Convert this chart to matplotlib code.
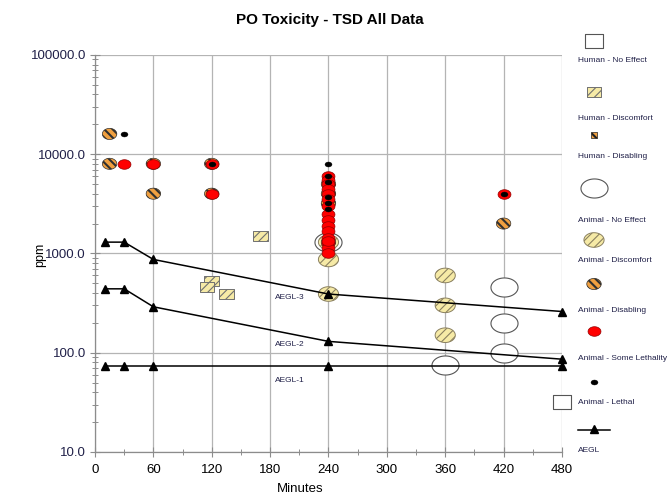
import numpy as np
import matplotlib
matplotlib.use("Agg")
import matplotlib.pyplot as plt
from matplotlib.path import Path
from matplotlib.ticker import FixedLocator, LogLocator, NullFormatter, FuncFormatter

plt.rcParams['font.family'] = ['Liberation Sans', 'DejaVu Sans']

# ---------------- data ----------------
human_noeffect_t = [480]
human_noeffect_ppm = [32]

human_discomfort_t = [170, 120, 115, 135]
human_discomfort_ppm = [1500, 530, 460, 390]

animal_noeffect_t = [240, 360, 420, 420, 420]
animal_noeffect_ppm = [1300, 75, 460, 200, 100]

animal_discomfort_t = [240, 240, 240, 360, 360, 360]
animal_discomfort_ppm = [1300, 870, 390, 600, 300, 150]

animal_disabling_t = [15, 15, 60, 60, 120, 120, 240, 240, 240, 240, 420]
animal_disabling_ppm = [16000, 8000, 8000, 4000, 8000, 4000, 5000, 4000, 3200, 1300, 2000]

animal_somelethal_t = [30, 60, 120, 120, 240, 240, 240, 240, 240, 240, 240, 240,
                       240, 240, 240, 240, 240, 240, 240, 240, 420]
animal_somelethal_ppm = [8000, 8000, 8000, 4000, 6000, 5500, 5000, 4500, 4000, 3500,
                         3000, 2500, 2150, 1900, 1700, 1420, 1270, 1130, 1010, 1350, 4000]

animal_lethal_t = [30, 120, 240, 240, 240, 240, 240, 240, 420]
animal_lethal_ppm = [16000, 8000, 8000, 6000, 5200, 3700, 3200, 2800, 4000]

aegl_t = [10, 30, 60, 240, 480]
aegl3 = [1300, 1300, 870, 390, 260]
aegl2 = [440, 440, 290, 130, 86]
aegl1 = [73, 73, 73, 73, 73]

x_ticks = [0, 60, 120, 180, 240, 300, 360, 420, 480]
y_ticks = [10, 100, 1000, 10000, 100000]

legend_labels = ["Human - No Effect", "Human - Discomfort", "Human - Disabling",
                 "Animal - No Effect", "Animal - Discomfort", "Animal - Disabling",
                 "Animal - Some Lethality", "Animal - Lethal", "AEGL"]


# ---------------- marker shapes ----------------
def ellipse(aspect):
    th = np.linspace(0, 2 * np.pi, 73)
    return Path(np.column_stack([aspect * np.cos(th), np.sin(th)]), closed=True)


def rect(aspect):
    return Path([[-aspect, -1], [aspect, -1], [aspect, 1], [-aspect, 1], [-aspect, -1]],
                closed=True)


NAVY = '#202048'

styles = {
    "hne": dict(marker=rect(1.3), s=13.5 ** 2, facecolors='white', edgecolors='#555555',
                linewidths=0.8, hatch=None, hc='black', hlw=1.0),
    "hdc": dict(marker=rect(1.4), s=10.5 ** 2, facecolors='#F6EAA6', edgecolors='#707070',
                linewidths=0.7, hatch='////', hc='#7a6a30', hlw=0.8),
    "hds": dict(marker=rect(1.2), s=4.5 ** 2, facecolors='#F0A040', edgecolors='#202020',
                linewidths=0.5, hatch='\\\\\\\\', hc='black', hlw=1.5),
    "ane": dict(marker=ellipse(1.42), s=19.5 ** 2, facecolors='white', edgecolors='#555555',
                linewidths=0.8, hatch=None, hc='black', hlw=1.0),
    "adc": dict(marker=ellipse(1.38), s=14.5 ** 2, facecolors='#F6EAA6', edgecolors='#8a8060',
                linewidths=0.7, hatch='////', hc='#7a6a30', hlw=0.8),
    "ads": dict(marker=ellipse(1.3), s=10.4 ** 2, facecolors='#F0A040', edgecolors='#303030',
                linewidths=0.5, hatch='\\\\\\\\', hc='black', hlw=1.5),
    "asl": dict(marker=ellipse(1.35), s=9.3 ** 2, facecolors='#FF0000', edgecolors='#900000',
                linewidths=0.5, hatch=None, hc='black', hlw=1.0),
    "ale": dict(marker=ellipse(1.4), s=5.0 ** 2, facecolors='black', edgecolors='black',
                linewidths=0.3, hatch=None, hc='black', hlw=1.0),
}


def draw(axis, key, x, y, z, **extra):
    st = dict(styles[key])
    hc = st.pop('hc')
    hlw = st.pop('hlw')
    hatch = st.pop('hatch')
    with plt.rc_context({'hatch.color': hc, 'hatch.linewidth': hlw}):
        kw = dict(st)
        if hatch:
            kw['hatch'] = hatch
        axis.scatter(x, y, zorder=z, **kw, **extra)


# ---------------- figure ----------------
fig = plt.figure(figsize=(6.69, 4.95), dpi=100)
ax = fig.add_axes([0.142, 0.087, 0.698, 0.802])
ax.set_yscale('log')
ax.set_xlim(0, 480)
ax.set_ylim(10, 100000)

ax.xaxis.set_major_locator(FixedLocator(x_ticks))
ax.xaxis.set_minor_locator(FixedLocator([t + 30 for t in x_ticks[:-1]]))
ax.yaxis.set_major_locator(FixedLocator(y_ticks))
ax.yaxis.set_minor_locator(LogLocator(base=10, subs=np.arange(2, 10)))
ax.yaxis.set_minor_formatter(NullFormatter())
ax.yaxis.set_major_formatter(FuncFormatter(lambda v, p: f"{v:.1f}"))

ax.grid(True, which='major', color='#b4b4b4', linewidth=0.9, zorder=0)
ax.set_axisbelow(True)
for sp in ['top', 'right']:
    ax.spines[sp].set_visible(False)
for sp in ['left', 'bottom']:
    ax.spines[sp].set_color('#8c8c8c')
    ax.spines[sp].set_linewidth(0.9)

ax.tick_params(which='major', direction='inout', length=7, width=0.8, color='#8c8c8c',
               labelsize=9.5)
ax.tick_params(which='minor', direction='inout', length=4, width=0.7, color='#8c8c8c')
ax.tick_params(axis='y', labelcolor=NAVY, pad=3)
ax.tick_params(axis='x', labelcolor='black', pad=5)

# data points
draw(ax, "ane", animal_noeffect_t, animal_noeffect_ppm, 3)
draw(ax, "adc", animal_discomfort_t, animal_discomfort_ppm, 4)
draw(ax, "hdc", human_discomfort_t, human_discomfort_ppm, 4)
draw(ax, "ads", animal_disabling_t, animal_disabling_ppm, 5)
draw(ax, "asl", animal_somelethal_t, animal_somelethal_ppm, 6)
draw(ax, "ale", animal_lethal_t, animal_lethal_ppm, 7)

for vals in (aegl3, aegl2, aegl1):
    ax.plot(aegl_t, vals, color='black', linewidth=1.1, marker='^', markersize=5.5,
            zorder=8, clip_on=False)

draw(ax, "hne", human_noeffect_t, human_noeffect_ppm, 9, clip_on=False)

ax.text(185, 356, "AEGL-3", fontsize=6, color=NAVY, va='center', ha='left', zorder=10)
ax.text(185, 120, "AEGL-2", fontsize=6, color=NAVY, va='center', ha='left', zorder=10)
ax.text(185, 52, "AEGL-1", fontsize=6, color=NAVY, va='center', ha='left', zorder=10)

fig.text(330 / 669, 1 - 20 / 495, "PO Toxicity - TSD All Data", fontsize=11,
         fontweight='bold', ha='center', va='center')
fig.text(40 / 669, 1 - 255 / 495, "ppm", rotation=90, fontsize=9, ha='center', va='center')
fig.text(300 / 669, 1 - 489 / 495, "Minutes", fontsize=9.5, ha='center', va='center')

# ---------------- legend (pixel layout) ----------------
lax = fig.add_axes([0, 0, 1, 1])
lax.set_xlim(0, 669)
lax.set_ylim(495, 0)
lax.axis('off')
lax.patch.set_alpha(0)

leg_keys = ["hne", "hdc", "hds", "ane", "adc", "ads", "asl", "ale"]
leg_marker_y = [41, 92, 135, 188, 240, 284, 331, 382]
leg_label_y = [61, 118, 157, 220, 261, 311, 358, 403, 451]
for k, my in zip(leg_keys, leg_marker_y):
    draw(lax, k, [594], [my], 5, clip_on=False)
lax.plot([578, 610], [430, 430], color='black', linewidth=1.1, zorder=5)
lax.plot([594], [429], color='black', marker='^', markersize=5.5, zorder=6)
for lab, ly in zip(legend_labels, leg_label_y):
    lax.text(578, ly, lab, fontsize=6, color=NAVY, ha='left', va='center')

fig.savefig("out.png", dpi=100)
